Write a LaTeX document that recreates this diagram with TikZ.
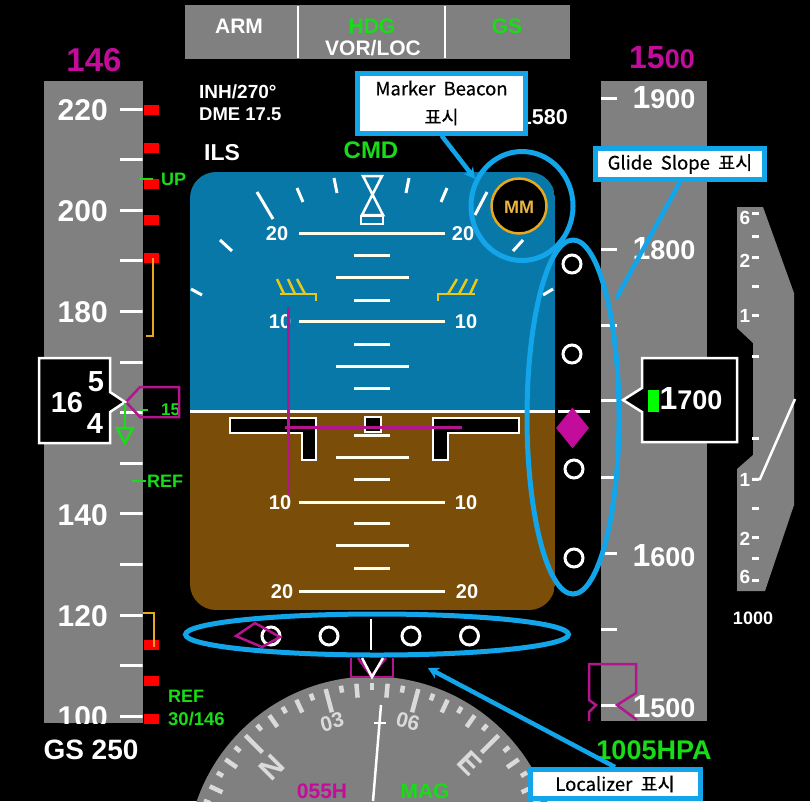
\documentclass[tikz,border=0pt]{standalone}
\usepackage{fontspec}
\setmainfont{Liberation Sans}
\newfontfamily\krfont[FakeBold=0.4]{Noto Sans CJK KR}
\usetikzlibrary{arrows.meta, shapes.geometric}
\definecolor{tapegrey}{HTML}{808080}
\definecolor{skyblue}{HTML}{0878A8}
\definecolor{earthbrown}{HTML}{7A4E08}
\definecolor{ringblue}{HTML}{12A5EA}
\definecolor{fdmagenta}{HTML}{B4148E}
\definecolor{diamagenta}{HTML}{C40C9C}
\definecolor{modegreen}{HTML}{18DC18}
\definecolor{amber}{HTML}{E8A820}
\definecolor{wingyellow}{HTML}{E8C818}
\definecolor{lightmark}{HTML}{DADADA}
\newcommand{\fs}[1]{\fontsize{#1}{#1}\selectfont}
\newcommand{\altnum}[2]{{\fs{32}#1}{\fs{27}#2}}

\begin{document}
\begin{tikzpicture}[
    x=1pt, y=-1pt,
    every node/.style={font=\bfseries, text=white, inner sep=0pt},
    tick/.style={white, line width=3pt},
    ladder/.style={white!92!yellow, line width=3pt},
    redbar/.style={fill=red, minimum width=15pt, minimum height=10pt},
    hole/.style={circle, draw=white, line width=3pt, minimum size=18pt},
    ring/.style={ellipse, draw=ringblue, line width=5pt},
    callout/.style={draw=ringblue, fill=white, line width=5pt, text=black, align=center, font=\krfont\fs{18.5}},
    callline/.style={draw=ringblue, line width=4.5pt, -{Stealth[length=11pt, width=12pt]}},
    bug/.style={draw=fdmagenta, line width=2.5pt},
    readout/.style={draw=white, fill=black, line width=2.5pt, line join=miter},
    compmark/.style={lightmark, line width=4.5pt}
  ]
  \useasboundingbox (0,0) rectangle (810,801);
  \fill[black] (0,0) rectangle (810,801);

  % Mode panel
  \fill[tapegrey] (185,5) rectangle (570,59);
  \draw[white, line width=2.5pt] (298,6) -- (298,58);
  \draw[white, line width=2.5pt] (445,6) -- (445,58);
  \node[font=\bfseries\fs{21}] (arm) at (239,26) {ARM};
  \node[font=\bfseries\fs{21}, text=modegreen] (hdg) at (372,26) {HDG};
  \node[font=\bfseries\fs{21}] (vorloc) at (373,48) {VOR/LOC};
  \node[font=\bfseries\fs{21}, text=modegreen] (gs) at (507,26) {GS};

  % Speed tape
  \node[font=\bfseries\fs{33}, text=diamagenta] (spdtarget) at (94,60) {146};
  \fill[tapegrey] (43.5,81) rectangle (142.5,723);
  \begin{scope}
    \clip (43.5,81) rectangle (142.5,723);
    \foreach \n in {0,...,12}
      \draw[tick] (120,109+50.6*\n) -- (143,109+50.6*\n);
    \foreach \v/\y in {220/109, 200/210, 180/311, 140/514, 120/615, 100/716}
      \node[font=\bfseries\fs{30}, anchor=east] (spd\v) at (108,\y+1) {\v};
  \end{scope}
  \foreach \y in {110,148,184,220,258,645,681,719}
    \node[redbar] (bar\y) at (151.5,\y) {};
  \draw[amber, line width=2.5pt] (153,258) -- (153,336) -- (146,336);
  \draw[amber, line width=2.5pt] (143,613) -- (154,613) -- (154,647);
  \draw[modegreen, line width=2.5pt] (139,179) -- (153,179);
  \node[font=\bfseries\fs{18}, text=modegreen, anchor=west] (up) at (161,179) {UP};
  \draw[modegreen, line width=2.5pt] (132,481) -- (146,481);
  \node[font=\bfseries\fs{18}, text=modegreen, anchor=west] (ref) at (147,481) {REF};
  \node[font=\bfseries\fs{18}, text=modegreen, anchor=west] (reflabel) at (168,696) {REF};
  \node[font=\bfseries\fs{18.5}, text=modegreen, anchor=west] (refspeed) at (168,719) {30/146};
  \node[font=\bfseries\fs{28}] (gsspeed) at (91,750) {GS 250};
  \draw[modegreen, line width=2.5pt] (140,410) -- (148,410);
  \node[font=\bfseries\fs{17}, text=modegreen, anchor=west] (flap) at (161,410) {15};
  \draw[bug, fill=none] (126,402) -- (140,387) -- (179,387) -- (179,417) -- (140,417) -- cycle;
  \draw[readout] (39,358) -- (110,358) -- (110,392) -- (125,402) -- (110,412) -- (110,443) -- (39,443) -- cycle;
  \node[font=\bfseries\fs{29}] (spdtens) at (67,403) {16};
  \node[font=\bfseries\fs{29}] (spdup) at (96,382) {5};
  \node[font=\bfseries\fs{29}] (spddown) at (95,424) {4};
  \draw[modegreen, line width=2.5pt] (125,403) -- (125,428);
  \draw[modegreen, line width=2.5pt] (117,428) -- (133,428) -- (125,443) -- cycle;

  % Status text
  \node[font=\bfseries\fs{19}, anchor=west] (inh) at (199,92) {INH/270°};
  \node[font=\bfseries\fs{18.5}, anchor=west] (dme) at (199,114) {DME 17.5};
  \node[font=\bfseries\fs{23}] (ils) at (222,153) {ILS};
  \node[font=\bfseries\fs{24}, text=modegreen] (cmd) at (371,150) {CMD};
  \node[font=\bfseries\fs{21.5}, anchor=east] (baro) at (568,117) {1580};

  % Attitude sphere
  \begin{scope}
    \clip[rounded corners=26pt] (190,172) rectangle (555,610);
    \fill[skyblue] (190,172) rectangle (555,411);
    \fill[earthbrown] (190,411) rectangle (555,610);
  \end{scope}
  \draw[white, line width=3pt] (190,411) -- (555,411);
  \draw[white, line width=3pt] (558,411) -- (590,411);

  % Bank scale
  \foreach \xa/\ya/\xb/\yb in {257/192/273/219, 297/188/303/202, 334/178/337/193, 409/178/406/193,
      447/188/441/202, 487/192/475/215, 220/240/232/251, 523/240/513/251, 191/289/202/295, 553/289/543/295}
    \draw[tick] (\xa,\ya) -- (\xb,\yb);
  \draw[white, line width=2.5pt, line join=miter] (363,176) -- (382,176) -- (362,215) -- (383,215) -- cycle;
  \draw[white, line width=2.5pt] (361,216) rectangle (383,224);

  % Pitch ladder
  \foreach \y in {233,321,502,591}
    \draw[ladder] (299,\y) -- (445,\y);
  \foreach \y in {277,366,457,545}
    \draw[ladder] (336,\y) -- (409,\y);
  \foreach \y in {255,300,344,388,435,479,523,568}
    \draw[ladder] (354,\y) -- (390,\y);
  \node[font=\bfseries\fs{20}] (pitchua) at (277,234) {20};
  \node[font=\bfseries\fs{20}] (pitchub) at (463,234) {20};
  \node[font=\bfseries\fs{20}] (pitchuc) at (280,322) {10};
  \node[font=\bfseries\fs{20}] (pitchud) at (466,322) {10};
  \node[font=\bfseries\fs{20}] (pitchla) at (280,503) {10};
  \node[font=\bfseries\fs{20}] (pitchlb) at (466,503) {10};
  \node[font=\bfseries\fs{20}] (pitchlc) at (282,592) {20};
  \node[font=\bfseries\fs{20}] (pitchld) at (467,592) {20};

  % Pitch limit marks
  \draw[wingyellow, line width=2.5pt] (280,294) -- (316,294) -- (316,301);
  \draw[wingyellow, line width=2.5pt] (277,279) -- (284,294);
  \draw[wingyellow, line width=2.5pt] (288,279) -- (295,294);
  \draw[wingyellow, line width=2.5pt] (297,279) -- (305,294);
  \draw[wingyellow, line width=2.5pt] (475,294) -- (438,294) -- (438,301);
  \draw[wingyellow, line width=2.5pt] (477,279) -- (470,294);
  \draw[wingyellow, line width=2.5pt] (467,279) -- (459,294);
  \draw[wingyellow, line width=2.5pt] (457,279) -- (448,294);

  % Aircraft symbol
  \draw[readout] (230,418) -- (316,418) -- (316,460) -- (302,460) -- (302,433) -- (230,433) -- cycle;
  \draw[readout] (519,418) -- (433,418) -- (433,460) -- (448,460) -- (448,433) -- (519,433) -- cycle;
  \draw[readout] (365,417) rectangle (381,432);

  % Flight director
  \draw[fdmagenta, line width=3pt] (288,307) -- (288,495);
  \draw[fdmagenta, line width=3pt] (285,427) -- (462,427);

  % Marker beacon
  \node[circle, draw=amber, fill=black, line width=2.5pt, minimum size=55pt] (mmdisc) at (519,206) {};
  \node[font=\bfseries\fs{18}, text=amber!85!white] (mm) at (519,207) {MM};

  % Glide slope scale
  \node[hole] (gsa) at (572,264) {};
  \node[hole] (gsb) at (572,354) {};
  \node[hole] (gsc) at (574,469) {};
  \node[hole] (gsd) at (574,558) {};
  \node[diamond, fill=diamagenta, minimum width=33pt, minimum height=41pt] (gsptr) at (572.5,428) {};

  % Localizer scale
  \node[hole] (loca) at (271,636) {};
  \node[hole] (locb) at (329,636) {};
  \node[hole] (locc) at (411,636) {};
  \node[hole] (locd) at (469.5,636) {};
  \draw[white, line width=2.5pt] (371,619) -- (371,650);
  \draw[bug, line join=miter] (236,636) -- (255,623) -- (280,637) -- (262,647) -- cycle;

  % Altitude tape
  \node[font=\bfseries\fs{27}, text=diamagenta] (alttarget) at (662,58) {{\fs{32}15}00};
  \fill[tapegrey] (601,81) rectangle (707,721);
  \foreach \y in {98,249,325,400,477,553,629,705}
    \draw[tick] (601,\y) -- (617,\y);
  \foreach \v/\w/\y in {1/900/98, 1/800/249, 1/600/556, 1/500/707}
    \node[font=\bfseries] (alt\w) at (664,\y) {\altnum{\v}{\w}};
  \draw[bug, fill=none] (589,721) -- (589,712) -- (596,705) -- (589,700) -- (589,664) -- (636,664) -- (636,693) -- (617,705) -- (637,720);
  \draw[readout] (623,400) -- (642,388) -- (642,358) -- (737,358) -- (737,442) -- (642,442) -- (642,412) -- cycle;
  \fill[green] (648,390) rectangle (659,412);
  \node[font=\bfseries] (altnow) at (691,399) {\altnum{1}{700}};
  \node[font=\bfseries\fs{27}, text=modegreen] (hpa) at (654,750) {1005HPA};

  % Vertical speed
  \fill[tapegrey] (737,207) -- (763,207) -- (794,293) -- (794,505) -- (765,591) -- (737,591) -- (737,469)
    -- (753,455) -- (753,343) -- (737,328) -- cycle;
  \foreach \y in {213,236,257,286,315,356,438,479,508,537,558,580}
    \draw[tick] (752,\y) -- (759,\y);
  \foreach \v/\y/\s in {6/218/a, 2/261/b, 1/316/c, 1/480/d, 2/539/e, 6/577/f}
    \node[font=\bfseries\fs{19}] (vsi\s) at (745,\y) {\v};
  \draw[white, line width=2.5pt] (752,479) -- (760,479) -- (795,399);
  \node[font=\bfseries\fs{18}] (baromin) at (753,618) {1000};

  % Compass
  \begin{scope}
    \clip (0,0) rectangle (810,801);
    \fill[tapegrey] (372,862) circle (185.5);
    \foreach \a in {-70,-60,...,70}
      \draw[compmark] ({372+179*sin(\a)},{862-179*cos(\a)}) -- ({372+172*sin(\a)},{862-172*cos(\a)});
    \foreach \a in {-65,-55,-35,-25,-5,5,25,35,55,65}
      \draw[compmark] ({372+179*sin(\a)},{862-179*cos(\a)}) -- ({372+165*sin(\a)},{862-165*cos(\a)});
    \foreach \a in {-45,-15,15,45}
      \draw[compmark] ({372+179*sin(\a)},{862-179*cos(\a)}) -- ({372+155*sin(\a)},{862-155*cos(\a)});
    \node[font=\bfseries\fs{21}, text=lightmark, rotate=15] (hdgthree) at (332,722) {03};
    \node[font=\bfseries\fs{21}, text=lightmark, rotate=-15] (hdgsix) at (408,722) {06};
    \node[font=\bfseries\fs{30}, text=lightmark, rotate=45] (hdgn) at (272,768) {N};
    \node[font=\bfseries\fs{30}, text=lightmark, rotate=-45] (hdge) at (470,763) {E};
    \node[font=\bfseries\fs{21}, text=diamagenta, anchor=base] (hdgset) at (322,798) {055H};
    \node[font=\bfseries\fs{21}, text=modegreen, anchor=base] (hdgmag) at (425,798) {MAG};
    \draw[white, line width=2.5pt] (381,705) -- (373,801);
    \draw[white, line width=2pt] (374,723) -- (386,723);
  \end{scope}
  \draw[bug] (351,658) -- (351,677) -- (393,677) -- (393,658);
  \draw[bug] (358,658) -- (371,676) -- (386,658);
  \draw[white, line width=2.5pt] (362,658) -- (372,677) -- (383,658);

  % Highlight rings
  \node[ring, minimum width=102pt, minimum height=109pt] (markerring) at (522,206) {};
  \node[ring, minimum width=92pt, minimum height=354pt] (gsring) at (573,417) {};
  \node[ring, minimum width=383pt, minimum height=41pt] (locring) at (377,634.5) {};

  % Callouts
  \node[callout, minimum width=168pt, minimum height=60pt] (markerbox) at (441.5,103)
    {Marker\ \ Beacon\\[10pt]표시};
  \node[callout, minimum width=169pt, minimum height=31pt] (glidebox) at (680,164) {Glide\ \ Slope\ \ 표시};
  \node[callout, minimum width=170pt, minimum height=29pt] (localizerbox) at (615,784) {Localizer\ \ 표시};
  \coordinate (glidetip) at (617,297);
  \coordinate (localizertip) at (428,668);
  \draw[callline] (markerbox.south) -- (markerring.150);
  \draw[callline, -, line cap=round] (glidebox.south) -- (glidetip);
  \draw[callline] (localizerbox.north) -- (localizertip);
\end{tikzpicture}
\end{document}
